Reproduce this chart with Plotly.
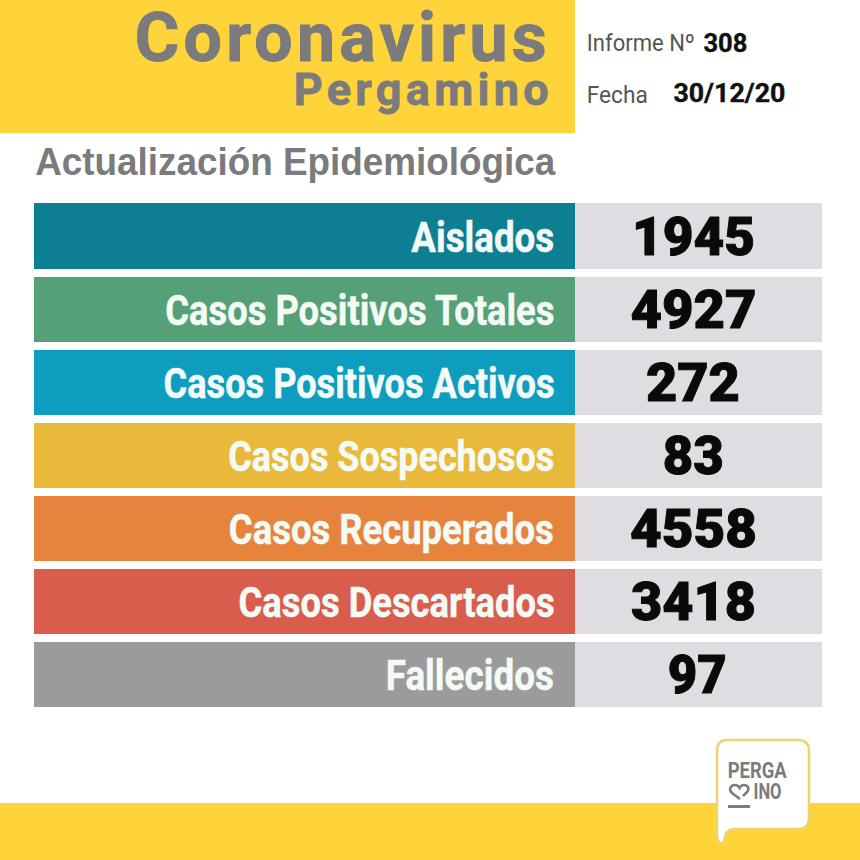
import json
import plotly.graph_objects as go

categories = ["Aislados", "Casos Positivos Totales", "Casos Positivos Activos", "Casos Sospechosos",
              "Casos Recuperados", "Casos Descartados", "Fallecidos"]
values = [1945, 4927, 272, 83, 4558, 3418, 97]
label_colors = ["#0C7F92", "#55A077", "#0E9DBE", "#E8B93A", "#E6843D", "#D95D4C", "#9B9B9B"]
value_color = "#DFDDE1"
title_main = "Coronavirus"
title_sub = "Pergamino"
heading = "Actualización Epidemiológica"
report_no = "308"
report_date = "30/12/20"
YELLOW = "#FFD43A"
GREY = "#7B7B7D"

# horizontal extents of the texts in the picture (left, right), in pixels
label_spans = [(411, 554), (165, 554), (163, 554), (228, 554), (229, 554), (238, 554), (386, 554)]
value_spans = [(632, 755), (630, 756), (646, 740), (663, 724), (630, 757), (631, 756), (668, 727)]

W = 860.0
def px(x): return x / W
def py(y): return 1 - y / W

label_band = [541] * len(categories)
value_band = [247] * len(categories)

fig = go.Figure()
fig.add_bar(y=categories, x=label_band, orientation="h", marker=dict(color=label_colors, line_width=0),
            hoverinfo="y", showlegend=False)
fig.add_bar(y=categories, x=value_band, orientation="h", marker=dict(color=value_color, line_width=0),
            customdata=values, hovertemplate="%{customdata}<extra></extra>", showlegend=False)

annotations = []
stretch = {}   # text -> (width, mode, stroke width)
for c, v, ls, vs in zip(categories, values, label_spans, value_spans):
    annotations.append(dict(x=(ls[0] + ls[1]) / 2 - 34, y=c, xref="x", yref="y", yshift=-1, text=c, xanchor="center", yanchor="middle",
                            showarrow=False, font=dict(family="Roboto", size=42, color="#F4FBF6", weight="bold")))
    stretch[c] = (ls[1] - ls[0], "spacingAndGlyphs", 0.5)
    annotations.append(dict(x=(vs[0] + vs[1]) / 2 - 34, y=c, xref="x", yref="y", text=str(v), xanchor="center", yanchor="middle",
                            showarrow=False, font=dict(family="Roboto", size=54, color="#0A0A0A", weight=900)))
    stretch[str(v)] = (vs[1] - vs[0], "spacingAndGlyphs", 1.0)

def ptext(x0, x1, y, text, size, color, family, weight="normal", mode="spacingAndGlyphs", sw=0):
    annotations.append(dict(x=px((x0 + x1) / 2), y=py(y), xref="paper", yref="paper", text=text, xanchor="center", yanchor="middle",
                            showarrow=False, font=dict(family=family, size=size, color=color, weight=weight)))
    stretch[text] = (x1 - x0, mode, sw)

ptext(135, 547, 38, title_main, 68, GREY, "Roboto", "bold", "spacing", 1.0)
ptext(293, 548, 90, title_sub, 45, GREY, "Roboto", "bold", "spacing", 0.8)
ptext(35, 555, 162, heading, 38, GREY, "Liberation Sans", "bold")
ptext(587, 695, 43, "Informe Nº", 24, "#555555", "Roboto")
ptext(703, 747, 43, report_no, 26, "#111111", "Roboto", "bold", "spacingAndGlyphs", 0.4)
ptext(587, 648, 95, "Fecha", 24, "#555555", "Roboto")
ptext(673, 785, 93, report_date, 26, "#111111", "Roboto", "bold", "spacingAndGlyphs", 0.4)
ptext(728, 787, 770, "PERGA", 22, GREY, "Roboto", "bold")
ptext(753, 781, 791, "INO", 22, GREY, "Roboto", "bold")

def P(x, y):
    return f"{px(x):.5f},{py(y):.5f}"

bubble = ("M " + P(727, 740) + " L " + P(798, 740) + " Q " + P(809, 740) + " " + P(809, 751) +
          " L " + P(809, 818) + " Q " + P(809, 829) + " " + P(798, 829) + " L " + P(733, 829) +
          " Q " + P(725, 830) + " " + P(724, 842) + " Q " + P(718, 846) + " " + P(717, 835) +
          " L " + P(717, 751) + " Q " + P(717, 740) + " " + P(727, 740) + " Z")
heart = ("M " + P(740, 799) + " L " + P(732, 793) + " C " + P(728, 789) + " " + P(731, 785) + " " + P(735, 785) +
         " Q " + P(738, 785) + " " + P(739.5, 788) + " Q " + P(741, 785) + " " + P(744, 785) +
         " C " + P(748, 785) + " " + P(750, 789) + " " + P(747, 792) + " L " + P(743, 796))

shapes = [
    dict(type="rect", xref="paper", yref="paper", x0=px(0), x1=px(575), y0=py(133), y1=py(0), fillcolor=YELLOW, line_width=0, layer="below"),
    dict(type="rect", xref="paper", yref="paper", x0=px(0), x1=px(860), y0=py(860), y1=py(803), fillcolor=YELLOW, line_width=0, layer="below"),
    dict(type="path", xref="paper", yref="paper", path=bubble, fillcolor="#FFFFFF", line=dict(color="#EFD36E", width=2.5), layer="above"),
    dict(type="path", xref="paper", yref="paper", path=heart, fillcolor="rgba(0,0,0,0)", line=dict(color=GREY, width=2.5), layer="above"),
    dict(type="rect", xref="paper", yref="paper", x0=px(728), x1=px(750), y0=py(808), y1=py(805), fillcolor=GREY, line_width=0, layer="above"),
]

fig.update_layout(
    width=860, height=860, margin=dict(l=0, r=0, t=0, b=0),
    paper_bgcolor="#FFFFFF", plot_bgcolor="rgba(0,0,0,0)",
    barmode="stack", bargap=0.105,
    xaxis=dict(domain=[px(34), px(822)], range=[0, 788], visible=False, fixedrange=True),
    yaxis=dict(domain=[py(711.3), py(199.6)], autorange="reversed", visible=False, fixedrange=True, type="category"),
    shapes=shapes, annotations=annotations,
)
post = """
document.body.style.margin='0';
document.documentElement.style.overflow='hidden';
var S = %s;
document.querySelectorAll('text.annotation-text').forEach(function(t){
  var s = S[t.textContent];
  if(s){
    t.setAttribute('textLength', s[0]); t.setAttribute('lengthAdjust', s[1]);
    if(s[2]){ t.style.stroke = t.style.fill; t.style.strokeWidth = s[2] + 'px'; }
  }
});
""" % json.dumps(stretch, ensure_ascii=False)
fig.write_html("out.html", post_script=post, config=dict(displayModeBar=False))
